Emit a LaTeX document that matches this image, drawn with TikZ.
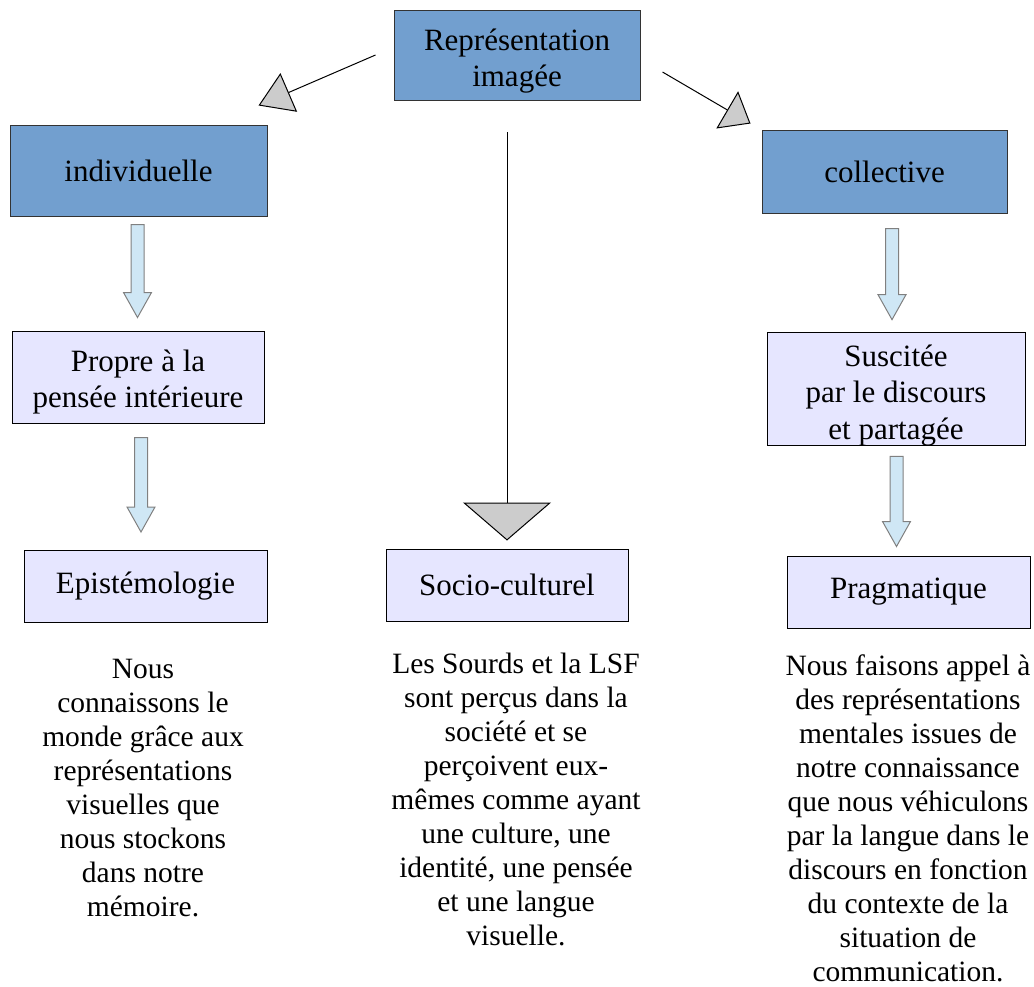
\documentclass[tikz,border=0pt]{standalone}
\usepackage{fontspec}
\setmainfont{Liberation Serif}
\usepackage{tikz}
\usetikzlibrary{arrows.meta,calc}

\definecolor{darkbox}{HTML}{729FCF}
\definecolor{lightbox}{HTML}{E6E6FF}
\definecolor{arrowfill}{HTML}{CFE7F5}
\definecolor{tipgray}{HTML}{CCCCCC}

\tikzset{
  mainbox/.style={draw=black!80, fill=darkbox, line width=1pt, inner sep=0pt,
    font=\fontsize{31}{36.5}\selectfont, align=center},
  subbox/.style={draw=black, fill=lightbox, line width=1pt, inner sep=0pt,
    font=\fontsize{31}{36.5}\selectfont, align=center},
  bodytext/.style={anchor=base, inner sep=0pt, align=center,
    font=\fontsize{29.5}{34}\selectfont},
  pointer/.style 2 args={line width=1pt, -{Triangle[length=#1, width=#2, fill=tipgray]}},
  blockarrow/.style={draw=gray, fill=arrowfill, line width=1pt, line join=miter}
}

% hollow block arrow pointing down, from #1 (top of shaft) to #2 (tip)
\newcommand{\blockdown}[2]{%
  \draw[blockarrow] let \p1=#1, \p2=#2 in
    (\x1-6.5pt,\y1) -- (\x1+6.5pt,\y1) -- (\x1+6.5pt,\y2+25pt) -- (\x1+14pt,\y2+25pt)
    -- (\x1,\y2) -- (\x1-14pt,\y2+25pt) -- (\x1-6.5pt,\y2+25pt) -- cycle;}

\begin{document}
\begin{tikzpicture}[x=1pt, y=-1pt]

\useasboundingbox (0,0) rectangle (1034,986);

\node[mainbox, minimum width=246, minimum height=90] (rep) at (517,55) {\rule{0pt}{34pt}Représentation\\imagée};
\node[mainbox, minimum width=257, minimum height=91] (indiv) at (138.5,170.5) {individuelle};
\node[mainbox, minimum width=245, minimum height=83] (coll) at (884.5,171.5) {collective};

\node[subbox, minimum width=252, minimum height=92] (propre) at (138,377) {\rule{0pt}{32pt}Propre à la\\pensée intérieure};
\node[subbox, minimum width=258, minimum height=108] (suscitee) at (896,389) {\rule{0pt}{34pt}Suscitée\\par le discours\\ et partagée};

\node[subbox, minimum width=243, minimum height=72] (episteme) at (145.5,586.5) {Epistémologie};
\node[subbox, minimum width=242, minimum height=72] (socio) at (507,585) {Socio-culturel};
\node[subbox, minimum width=243, minimum height=72] (pragma) at (908.5,592) {Pragmatique};

% thin arrows with big grey heads
\draw[pointer={33pt}{42pt}] ([xshift=-18pt]rep.west) -- ([shift={(-9,-19)}]indiv.north east);
\draw[pointer={27pt}{43pt}] ([shift={(22,17)}]rep.east) -- ([shift={(-11,-6)}]coll.north west);
\draw[pointer={38pt}{88pt}] (socio.north |- 0,132) -- ([yshift=8pt]socio.north);

% block arrows
\blockdown{([shift={(-1,8)}]indiv.south)}{([shift={(-0.5,-13)}]propre.north)}
\blockdown{([shift={(3,14)}]propre.south)}{([shift={(-4.5,-18)}]episteme.north)}
\blockdown{([shift={(7.5,15)}]coll.south)}{([shift={(-4,-12)}]suscitee.north)}
\blockdown{([shift={(0.5,10)}]suscitee.south)}{([shift={(-12,-9)}]pragma.north)}

% texts below, placed by their last line
\node[bodytext] (txtleft) at (143,916) {Nous\\connaissons le\\monde grâce aux\\représentations\\visuelles que\\nous stockons\\dans notre\\mémoire.};
\node[bodytext] (txtmid) at (516,945) {Les Sourds et la LSF\\sont perçus dans la\\société et se\\perçoivent eux-\\mêmes comme ayant\\une culture, une\\identité, une pensée\\et une langue\\visuelle.};
\node[bodytext] (txtright) at (908,981) {Nous faisons appel à\\des représentations\\mentales issues de\\notre connaissance\\que nous véhiculons\\par la langue dans le\\discours en fonction\\du contexte de la\\situation de\\communication.};

\end{tikzpicture}
\end{document}
